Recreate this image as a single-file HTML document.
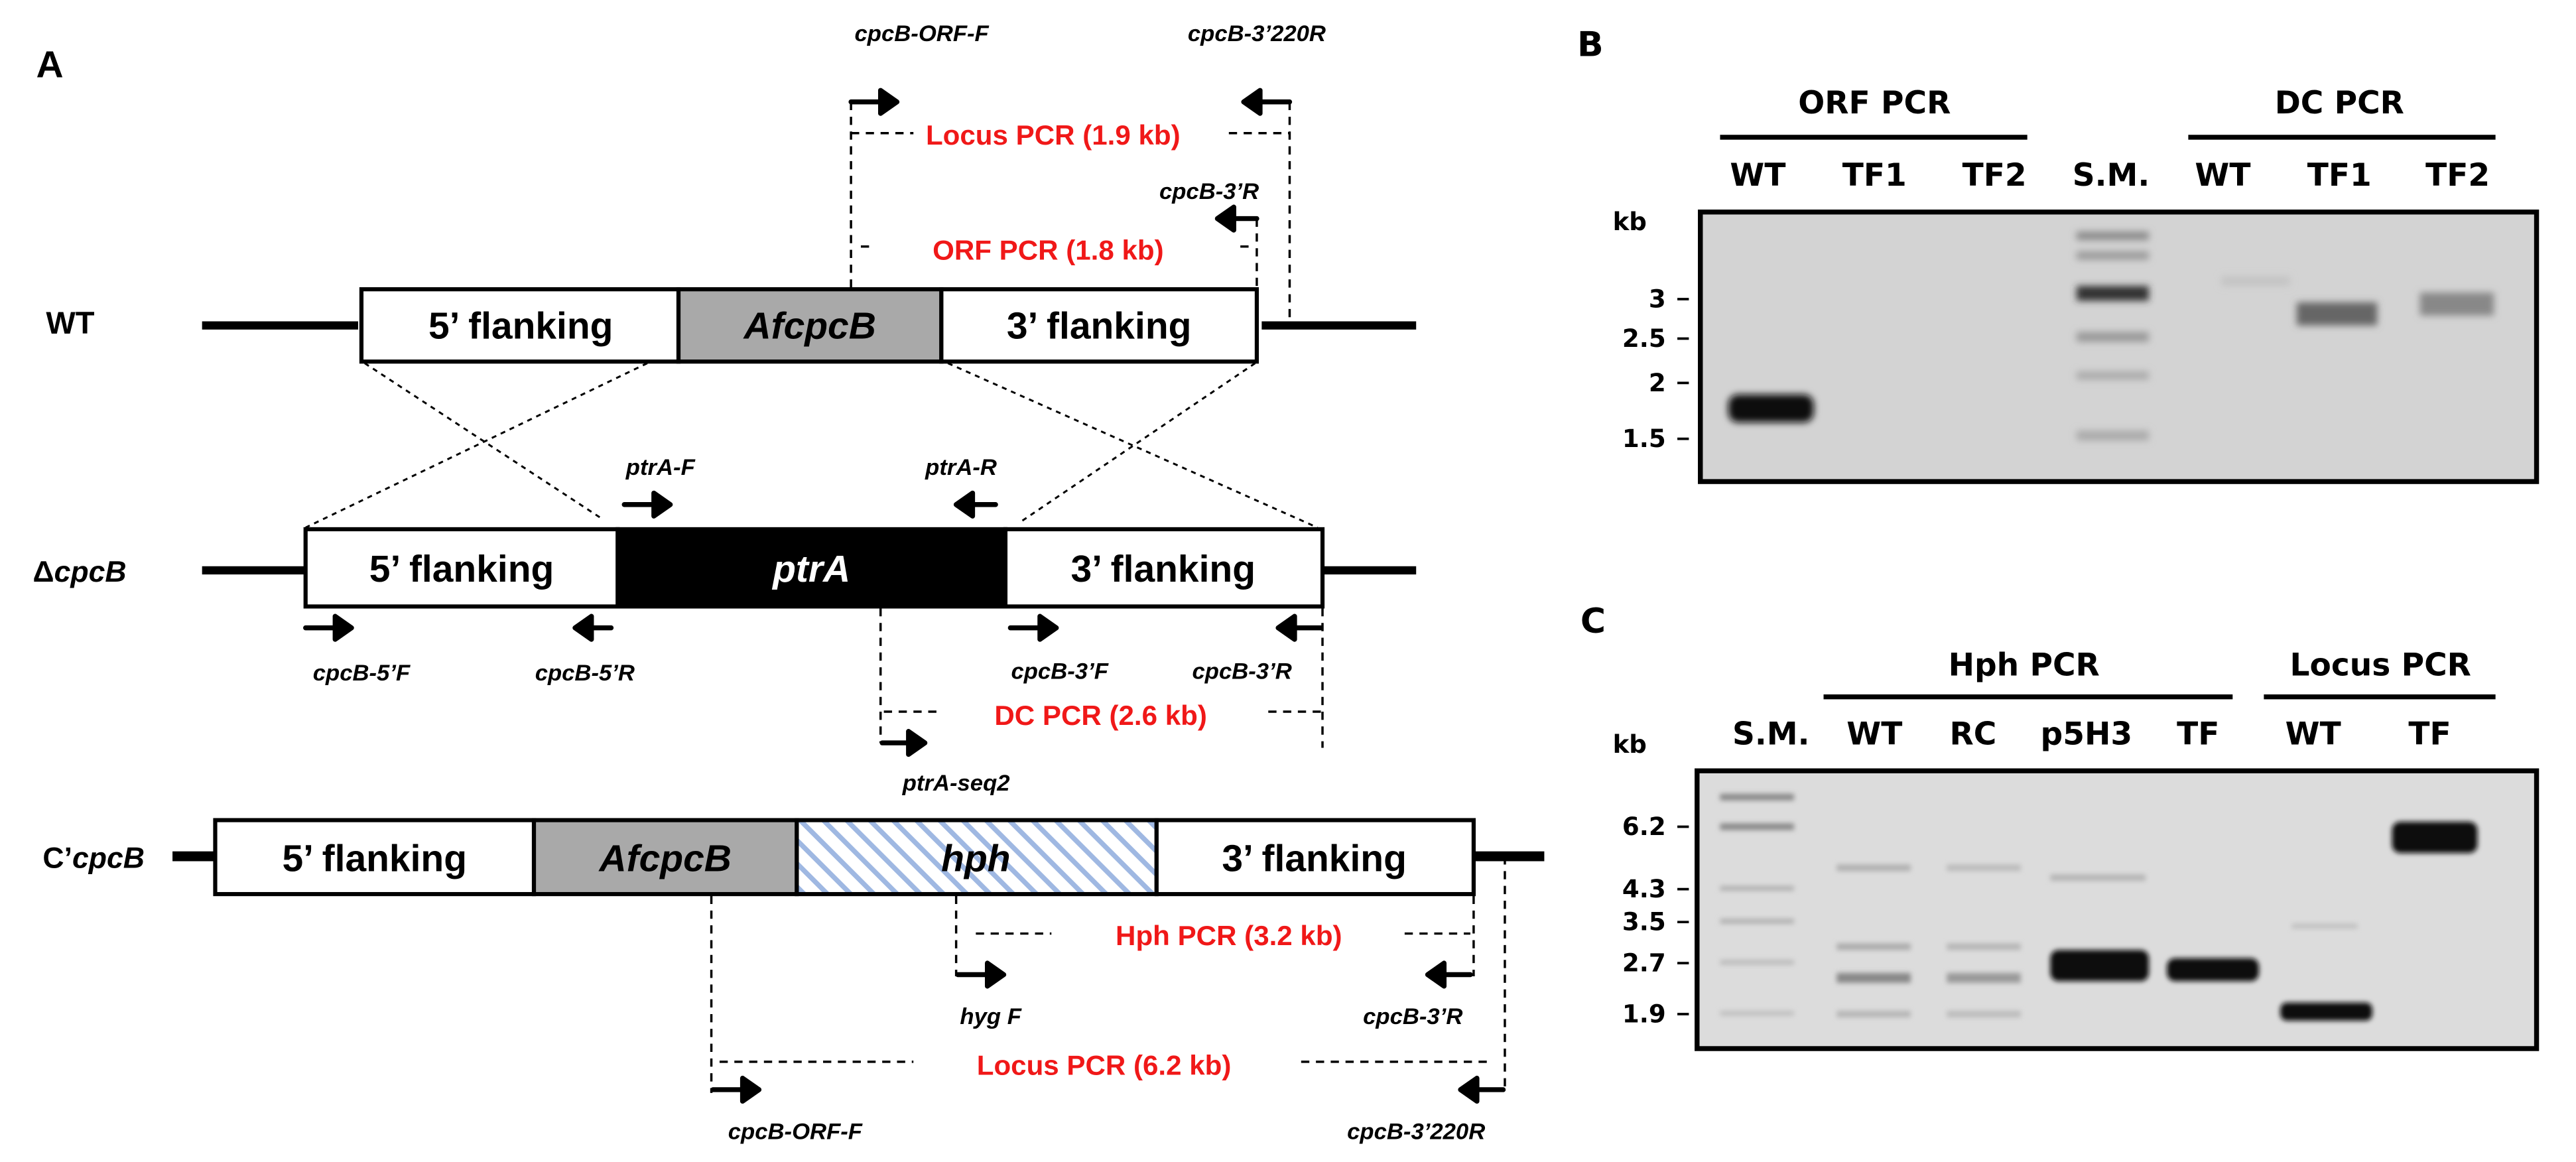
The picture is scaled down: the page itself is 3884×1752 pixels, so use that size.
<!DOCTYPE html>
<html><head><meta charset="utf-8"><style>
html,body{margin:0;padding:0;background:#fff;}
svg{display:block;}
text{font-family:"Liberation Sans",sans-serif;font-weight:bold;}
.p{font-size:14px;font-style:italic;}
.r{font-size:17px;fill:#f01818;}
.b{font-size:23px;}
.g{font-size:19px;font-family:"DejaVu Sans",sans-serif;}
.k{font-size:15px;font-family:"DejaVu Sans",sans-serif;}
</style></head><body>
<svg width="3884" height="1752" viewBox="0 0 1568 707" preserveAspectRatio="none" xmlns="http://www.w3.org/2000/svg">
<defs>
<pattern id="h" width="10" height="10" patternUnits="userSpaceOnUse" patternTransform="rotate(-45)">
<rect width="10" height="10" fill="#fff"/><rect x="0" y="0" width="3" height="10" fill="#9fb8e2"/></pattern>
<filter id="bl" x="-20%" y="-50%" width="140%" height="200%"><feGaussianBlur stdDeviation="2.2"/></filter>
<filter id="bl2" x="-20%" y="-50%" width="140%" height="200%"><feGaussianBlur stdDeviation="1.5"/></filter>
</defs>
<rect width="1568" height="707" fill="#fff"/>
<text x="22" y="47" font-size="23">A</text>

<!-- WT -->
<text x="28" y="203" font-size="19">WT</text>
<line x1="123" y1="198" x2="218" y2="198" stroke="#000" stroke-width="5"/>
<line x1="768" y1="198" x2="862" y2="198" stroke="#000" stroke-width="5"/>
<rect x="220" y="176" width="193" height="44" fill="#fff" stroke="#000" stroke-width="2.5"/>
<rect x="413" y="176" width="160" height="44" fill="#a9a9a9" stroke="#000" stroke-width="2.5"/>
<rect x="573" y="176" width="192" height="44" fill="#fff" stroke="#000" stroke-width="2.5"/>
<text x="317" y="206" class="b" text-anchor="middle">5’ flanking</text>
<text x="493" y="206" class="b" text-anchor="middle" font-style="italic">AfcpcB</text>
<text x="669" y="206" class="b" text-anchor="middle">3’ flanking</text>

<g stroke="#000" stroke-width="1.4" stroke-dasharray="5,4" fill="none">
<line x1="518" y1="62" x2="518" y2="176"/>
<line x1="785" y1="62" x2="785" y2="194"/>
<line x1="518" y1="81" x2="556" y2="81"/>
<line x1="748" y1="81" x2="785" y2="81"/>
<line x1="765" y1="133" x2="765" y2="176"/>
<line x1="524" y1="150" x2="530" y2="150"/>
<line x1="755" y1="150" x2="761" y2="150"/>
<line x1="536" y1="370" x2="536" y2="452"/>
<line x1="805" y1="370" x2="805" y2="455"/>
<line x1="538" y1="433" x2="572" y2="433"/>
<line x1="772" y1="433" x2="805" y2="433"/>
<line x1="433" y1="545" x2="433" y2="665"/>
<line x1="582" y1="545" x2="582" y2="594"/>
<line x1="897" y1="545" x2="897" y2="594"/>
<line x1="916" y1="521" x2="916" y2="664"/>
<line x1="594" y1="568" x2="640" y2="568"/>
<line x1="855" y1="568" x2="895" y2="568"/>
<line x1="438" y1="646" x2="556" y2="646"/>
<line x1="792" y1="646" x2="908" y2="646"/>
</g>
<g stroke="#000" stroke-width="1.2" stroke-dasharray="3,3" fill="none">
<line x1="222" y1="221" x2="367" y2="316"/>
<line x1="394" y1="221" x2="186" y2="321"/>
<line x1="577" y1="221" x2="802" y2="321"/>
<line x1="764" y1="221" x2="622" y2="317"/>
</g>

<text x="561" y="25" class="p" text-anchor="middle">cpcB-ORF-F</text>
<text x="765" y="25" class="p" text-anchor="middle">cpcB-3’220R</text>
<text x="641" y="88" class="r" text-anchor="middle">Locus PCR (1.9 kb)</text>
<text x="736" y="121" class="p" text-anchor="middle">cpcB-3’R</text>
<text x="638" y="158" class="r" text-anchor="middle">ORF PCR (1.8 kb)</text>

<g fill="#000" stroke="#000" stroke-width="3" stroke-linejoin="round">
<path d="M518 62 h18 v-7 l10 7 l-10 7 v-7z"/>
<path d="M785 62 h-18 v-7 l-10 7 l10 7 v-7z"/>
<path d="M765 133 h-14 v-7 l-10 7 l10 7 v-7z"/>
<path d="M380 307 h18 v-7 l10 7 l-10 7 v-7z"/>
<path d="M606 307 h-14 v-7 l-10 7 l10 7 v-7z"/>
<path d="M186 382 h18 v-7 l10 7 l-10 7 v-7z"/>
<path d="M372 382 h-12 v-7 l-10 7 l10 7 v-7z"/>
<path d="M615 382 h18 v-7 l10 7 l-10 7 v-7z"/>
<path d="M804 382 h-16 v-7 l-10 7 l10 7 v-7z"/>
<path d="M537 452 h16 v-7 l10 7 l-10 7 v-7z"/>
<path d="M583 593 h18 v-7 l10 7 l-10 7 v-7z"/>
<path d="M895 593 h-16 v-7 l-10 7 l10 7 v-7z"/>
<path d="M434 663 h18 v-7 l10 7 l-10 7 v-7z"/>
<path d="M915 663 h-16 v-7 l-10 7 l10 7 v-7z"/>
</g>

<!-- ΔcpcB -->
<text x="20" y="354" font-size="18">Δ<tspan font-style="italic">cpcB</tspan></text>
<line x1="123" y1="347" x2="185" y2="347" stroke="#000" stroke-width="5"/>
<line x1="805" y1="347" x2="862" y2="347" stroke="#000" stroke-width="5"/>
<rect x="186" y="322" width="190" height="47" fill="#fff" stroke="#000" stroke-width="2.5"/>
<rect x="376" y="322" width="236" height="47" fill="#000" stroke="#000" stroke-width="2.5"/>
<rect x="612" y="322" width="193" height="47" fill="#fff" stroke="#000" stroke-width="2.5"/>
<text x="281" y="354" class="b" text-anchor="middle">5’ flanking</text>
<text x="494" y="354" class="b" text-anchor="middle" font-style="italic" fill="#fff">ptrA</text>
<text x="708" y="354" class="b" text-anchor="middle">3’ flanking</text>
<text x="402" y="289" class="p" text-anchor="middle">ptrA-F</text>
<text x="585" y="289" class="p" text-anchor="middle">ptrA-R</text>
<text x="220" y="414" class="p" text-anchor="middle">cpcB-5’F</text>
<text x="356" y="414" class="p" text-anchor="middle">cpcB-5’R</text>
<text x="645" y="413" class="p" text-anchor="middle">cpcB-3’F</text>
<text x="756" y="413" class="p" text-anchor="middle">cpcB-3’R</text>
<text x="670" y="441" class="r" text-anchor="middle">DC PCR (2.6 kb)</text>
<text x="582" y="481" class="p" text-anchor="middle">ptrA-seq2</text>

<!-- C'cpcB -->
<text x="26" y="528" font-size="18">C’<tspan font-style="italic">cpcB</tspan></text>
<line x1="105" y1="521" x2="131" y2="521" stroke="#000" stroke-width="6"/>
<line x1="897" y1="521" x2="940" y2="521" stroke="#000" stroke-width="6"/>
<rect x="131" y="499" width="194" height="45" fill="#fff" stroke="#000" stroke-width="2.5"/>
<rect x="325" y="499" width="160" height="45" fill="#a9a9a9" stroke="#000" stroke-width="2.5"/>
<rect x="485" y="499" width="219" height="45" fill="url(#h)" stroke="#000" stroke-width="2.5"/>
<rect x="704" y="499" width="193" height="45" fill="#fff" stroke="#000" stroke-width="2.5"/>
<text x="228" y="530" class="b" text-anchor="middle">5’ flanking</text>
<text x="405" y="530" class="b" text-anchor="middle" font-style="italic">AfcpcB</text>
<text x="594" y="530" class="b" text-anchor="middle" font-style="italic">hph</text>
<text x="800" y="530" class="b" text-anchor="middle">3’ flanking</text>
<text x="748" y="575" class="r" text-anchor="middle">Hph PCR (3.2 kb)</text>
<text x="603" y="623" class="p" text-anchor="middle">hyg F</text>
<text x="860" y="623" class="p" text-anchor="middle">cpcB-3’R</text>
<text x="672" y="654" class="r" text-anchor="middle">Locus PCR (6.2 kb)</text>
<text x="484" y="693" class="p" text-anchor="middle">cpcB-ORF-F</text>
<text x="862" y="693" class="p" text-anchor="middle">cpcB-3’220R</text>

<!-- Panel B -->
<text x="960" y="34" font-size="21" style="font-family:'DejaVu Sans',sans-serif">B</text>
<text x="1141" y="69" class="g" text-anchor="middle">ORF PCR</text>
<line x1="1047" y1="83.5" x2="1234" y2="83.5" stroke="#000" stroke-width="3"/>
<text x="1424" y="69" class="g" text-anchor="middle">DC PCR</text>
<line x1="1332" y1="83.5" x2="1519" y2="83.5" stroke="#000" stroke-width="3"/>
<text x="1070" y="113" class="g" text-anchor="middle">WT</text><text x="1141" y="113" class="g" text-anchor="middle">TF1</text><text x="1214" y="113" class="g" text-anchor="middle">TF2</text><text x="1285" y="113" class="g" text-anchor="middle">S.M.</text><text x="1353" y="113" class="g" text-anchor="middle">WT</text><text x="1424" y="113" class="g" text-anchor="middle">TF1</text><text x="1496" y="113" class="g" text-anchor="middle">TF2</text>
<text x="992" y="140" class="k" text-anchor="middle" font-size="16">kb</text>
<g text-anchor="end">
<text x="1014" y="187" class="k">3</text><text x="1014" y="211" class="k">2.5</text><text x="1014" y="238" class="k">2</text><text x="1014" y="272" class="k">1.5</text>
</g>
<g stroke="#000" stroke-width="1.5"><line x1="1021" y1="182" x2="1028" y2="182"/><line x1="1021" y1="206" x2="1028" y2="206"/><line x1="1021" y1="233" x2="1028" y2="233"/><line x1="1021" y1="267" x2="1028" y2="267"/></g>
<rect x="1035" y="129" width="509" height="164" fill="#d3d3d3" stroke="#000" stroke-width="3"/>
<g filter="url(#bl)">
<rect x="1052" y="240" width="52" height="17" rx="6" fill="#111"/>
<rect x="1264" y="141" width="44" height="5" fill="#888"/>
<rect x="1264" y="153" width="44" height="5" fill="#999"/>
<rect x="1264" y="174" width="44" height="9" fill="#333"/>
<rect x="1264" y="202" width="44" height="6" fill="#999"/>
<rect x="1264" y="226" width="44" height="5" fill="#aaa"/>
<rect x="1264" y="262" width="44" height="6" fill="#aaa"/>
<rect x="1352" y="168" width="42" height="6" fill="#c4c4c4"/>
<rect x="1398" y="184" width="49" height="14" fill="#666"/>
<rect x="1473" y="178" width="45" height="14" fill="#888"/>
</g>

<!-- Panel C -->
<text x="962" y="385" font-size="21" style="font-family:'DejaVu Sans',sans-serif">C</text>
<text x="1232" y="411" class="g" text-anchor="middle">Hph PCR</text>
<line x1="1110" y1="424" x2="1359" y2="424" stroke="#000" stroke-width="3"/>
<text x="1449" y="411" class="g" text-anchor="middle">Locus PCR</text>
<line x1="1378" y1="424" x2="1519" y2="424" stroke="#000" stroke-width="3"/>
<text x="1078" y="453" class="g" text-anchor="middle">S.M.</text><text x="1141" y="453" class="g" text-anchor="middle">WT</text><text x="1201" y="453" class="g" text-anchor="middle">RC</text><text x="1270" y="453" class="g" text-anchor="middle">p5H3</text><text x="1338" y="453" class="g" text-anchor="middle">TF</text><text x="1408" y="453" class="g" text-anchor="middle">WT</text><text x="1479" y="453" class="g" text-anchor="middle">TF</text>
<text x="992" y="458" class="k" text-anchor="middle" font-size="16">kb</text>
<g text-anchor="end">
<text x="1014" y="508" class="k">6.2</text><text x="1014" y="546" class="k">4.3</text><text x="1014" y="566" class="k">3.5</text><text x="1014" y="591" class="k">2.7</text><text x="1014" y="622" class="k">1.9</text>
</g>
<g stroke="#000" stroke-width="1.5"><line x1="1021" y1="503" x2="1028" y2="503"/><line x1="1021" y1="541" x2="1028" y2="541"/><line x1="1021" y1="561" x2="1028" y2="561"/><line x1="1021" y1="586" x2="1028" y2="586"/><line x1="1021" y1="617" x2="1028" y2="617"/></g>
<rect x="1033" y="469" width="511" height="169" fill="#dcdcdc" stroke="#000" stroke-width="3"/>
<g filter="url(#bl2)">
<rect x="1047" y="483" width="45" height="4" fill="#888"/>
<rect x="1047" y="501" width="45" height="4" fill="#888"/>
<rect x="1047" y="539" width="45" height="3" fill="#b0b0b0"/>
<rect x="1047" y="559" width="45" height="3" fill="#b0b0b0"/>
<rect x="1047" y="584" width="45" height="3" fill="#bbb"/>
<rect x="1047" y="615" width="45" height="3" fill="#c0c0c0"/>
<rect x="1118" y="526" width="45" height="4" fill="#b0b0b0"/>
<rect x="1118" y="574" width="45" height="4" fill="#aaa"/>
<rect x="1118" y="592" width="45" height="6" fill="#888"/>
<rect x="1118" y="615" width="45" height="4" fill="#b5b5b5"/>
<rect x="1185" y="526" width="45" height="4" fill="#bbb"/>
<rect x="1185" y="574" width="45" height="4" fill="#b5b5b5"/>
<rect x="1185" y="592" width="45" height="6" fill="#9a9a9a"/>
<rect x="1185" y="615" width="45" height="4" fill="#bbb"/>
<rect x="1248" y="532" width="58" height="4" fill="#b5b5b5"/>
<rect x="1248" y="578" width="60" height="19" rx="5" fill="#0a0a0a"/>
<rect x="1319" y="583" width="56" height="14" rx="5" fill="#111"/>
<rect x="1388" y="610" width="56" height="11" rx="4" fill="#111"/>
<rect x="1395" y="562" width="40" height="3" fill="#c0c0c0"/>
<rect x="1456" y="500" width="52" height="19" rx="5" fill="#111"/>
</g>
</svg>
</body></html>
